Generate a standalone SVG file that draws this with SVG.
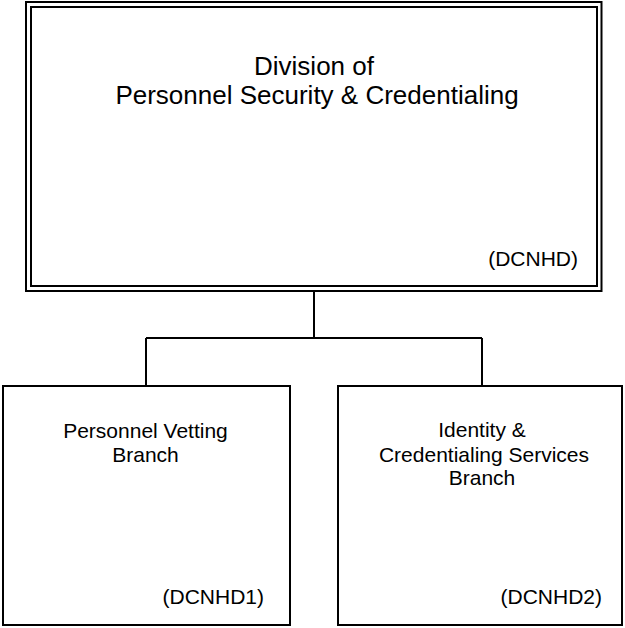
<svg xmlns="http://www.w3.org/2000/svg" width="625" height="628" viewBox="0 0 625 628">
<style>
.box{fill:#fff;stroke:#000;stroke-width:2}
.ln{fill:none;stroke:#000;stroke-width:2}
text{font-family:"Liberation Sans",Arial,sans-serif;fill:#000}
.t1{font-size:26px;text-anchor:middle}
.t2{font-size:21px;text-anchor:middle}
.code{font-size:21px;text-anchor:end}
</style>
<rect width="625" height="628" fill="#fff"/>
<g id="connectors">
<path class="ln" d="M314 291V338M146 338H482M146 338V386M482 338V386"/>
</g>
<g id="dcnhd">
<rect class="box" x="26" y="2" width="575.5" height="289"/>
<rect class="box" x="31" y="7" width="566" height="279"/>
<text class="t1" x="314" y="75">Division of</text>
<text class="t1" x="317" y="104">Personnel Security &amp; Credentialing</text>
<text class="code" x="578" y="266">(DCNHD)</text>
</g>
<g id="dcnhd1">
<rect class="box" x="3" y="386" width="287" height="239"/>
<text class="t2" x="145.5" y="438">Personnel Vetting</text>
<text class="t2" x="145.5" y="462">Branch</text>
<text class="code" x="264" y="604">(DCNHD1)</text>
</g>
<g id="dcnhd2">
<rect class="box" x="338" y="386" width="284" height="239"/>
<text class="t2" x="482" y="437">Identity &amp;</text>
<text class="t2" x="484" y="462">Credentialing Services</text>
<text class="t2" x="482" y="485">Branch</text>
<text class="code" x="602" y="604">(DCNHD2)</text>
</g>
</svg>
